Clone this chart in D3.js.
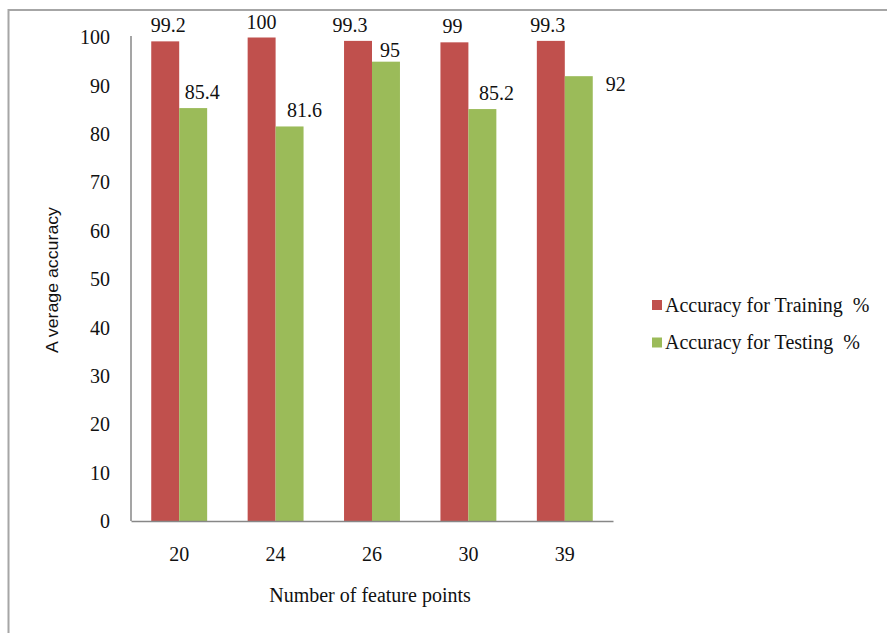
<!DOCTYPE html>
<html>
<head>
<meta charset="utf-8">
<script src="https://cdn.jsdelivr.net/npm/d3@7"></script>
<style>
  html, body { margin: 0; padding: 0; background: #fff; }
  svg { display: block; }
  svg text { fill: #111; }
  .serif { font-family: "Times New Roman", "Liberation Serif", "DejaVu Serif", serif; font-size: 20px; }
  .sans { font-family: "Liberation Sans", Arial, sans-serif; }
</style>
</head>
<body>
<svg id="chart" width="887" height="633"></svg>
<script>
// Feature-point counts on the category axis
const categories = ["20", "24", "26", "30", "39"];
// Average accuracy (%) per series
const trainingValues = [99.2, 100, 99.3, 99, 99.3];
const testingValues = [85.4, 81.6, 95, 85.2, 92];
const seriesNames = ["Accuracy for Training  %", "Accuracy for Testing  %"];
const yTicks = [0, 10, 20, 30, 40, 50, 60, 70, 80, 90, 100];

// Hand-placed offsets for the value labels (dx, dy from the default spot above each bar)
const trainingLabelNudge = [[3, 0], [0, 0], [-8, 0], [-2, 0], [-3, 0]];
const testingLabelNudge = [[9, 0], [15, 0], [4, 4], [14, 0], [37, 24]];

const colors = ["#C0504D", "#9BBB59"];

const svg = d3.select("#chart");

// Outer chart frame
svg.append("rect")
  .attr("x", 8.5).attr("y", 10)
  .attr("width", 900).attr("height", 640)
  .attr("fill", "none")
  .attr("stroke", "#a6a6a6")
  .attr("stroke-width", 2);

const plot = { left: 131, right: 613, top: 37.5, bottom: 521 };

const x = d3.scaleBand()
  .domain(categories)
  .range([plot.left, plot.right])
  .paddingInner(0.42)
  .paddingOuter(0.21);

const xSub = d3.scaleBand()
  .domain([0, 1])
  .range([0, x.bandwidth()]);

const y = d3.scaleLinear()
  .domain([0, 100])
  .range([plot.bottom, plot.top]);

const series = [trainingValues, testingValues];
const nudges = [trainingLabelNudge, testingLabelNudge];

// Bars
series.forEach((vals, s) => {
  svg.append("g")
    .selectAll("rect")
    .data(vals)
    .join("rect")
    .attr("x", (d, i) => x(categories[i]) + xSub(s))
    .attr("y", d => y(d))
    .attr("width", xSub.bandwidth())
    .attr("height", d => y(0) - y(d))
    .attr("fill", colors[s]);
});

// Value labels
series.forEach((vals, s) => {
  svg.append("g")
    .selectAll("text")
    .data(vals)
    .join("text")
    .attr("class", "serif")
    .attr("x", (d, i) => x(categories[i]) + xSub(s) + xSub.bandwidth() / 2 + nudges[s][i][0])
    .attr("y", (d, i) => y(d) - 9 + nudges[s][i][1])
    .attr("text-anchor", "middle")
    .text(d => d);
});

// Y axis
const yAxis = svg.append("g")
  .attr("transform", `translate(${plot.left},0)`)
  .call(d3.axisLeft(y).tickValues(yTicks).tickSize(0).tickPadding(21));
yAxis.attr("font-family", null).attr("font-size", null);
yAxis.select(".domain").attr("stroke", "#878787").attr("stroke-width", 1.5)
  .attr("d", `M0,${plot.bottom}V${plot.top - 1.5}`);
yAxis.selectAll("text").attr("class", "serif");

// X axis
const xAxis = svg.append("g")
  .attr("transform", `translate(0,${plot.bottom})`)
  .call(d3.axisBottom(x).tickSize(0).tickPadding(26));
xAxis.attr("font-family", null).attr("font-size", null);
xAxis.select(".domain").attr("stroke", "#878787").attr("stroke-width", 1.5);
xAxis.selectAll("text").attr("class", "serif");

// Axis titles
svg.append("text")
  .attr("class", "sans")
  .attr("transform", "translate(58,280) rotate(-90)")
  .attr("text-anchor", "middle")
  .style("font-size", "17px")
  .attr("textLength", 146)
  .attr("lengthAdjust", "spacingAndGlyphs")
  .text("A verage accuracy");

svg.append("text")
  .attr("class", "serif")
  .attr("x", 370).attr("y", 602)
  .attr("text-anchor", "middle")
  .text("Number of feature points");

// Legend
const legend = svg.append("g").attr("transform", "translate(652,300)");
seriesNames.forEach((name, i) => {
  const row = legend.append("g").attr("transform", `translate(0,${i * 37.5})`);
  row.append("rect")
    .attr("width", 10).attr("height", 10)
    .attr("fill", colors[i]);
  row.append("text")
    .attr("class", "serif")
    .attr("x", 13).attr("y", 11.5)
    .style("white-space", "pre")
    .text(name);
});
</script>
</body>
</html>
